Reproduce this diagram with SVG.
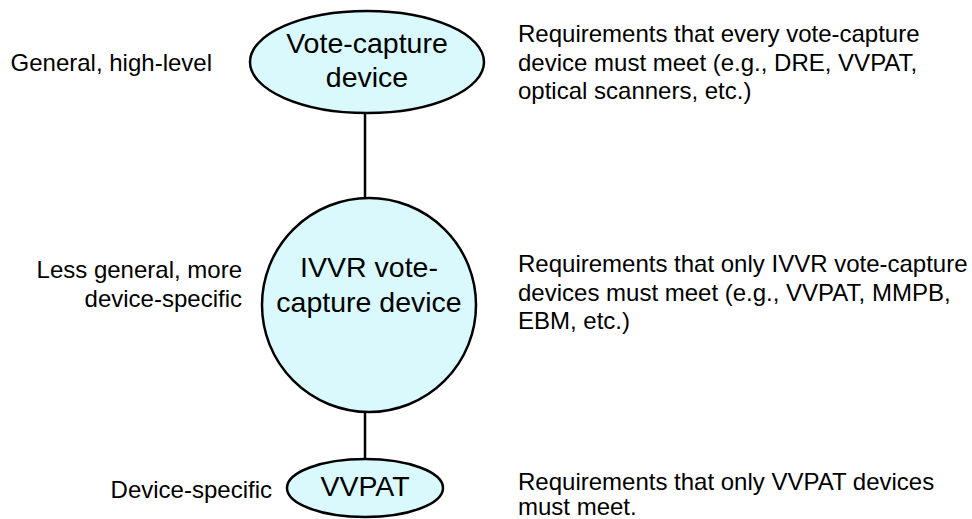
<svg xmlns="http://www.w3.org/2000/svg" width="972" height="519" viewBox="0 0 972 519">
<style>
text{font-family:"Liberation Sans",Arial,sans-serif;fill:#000}
.n{font-size:28.5px;text-anchor:middle}
.s{font-size:24px}
.l{text-anchor:end}
ellipse{fill:#d9f9fc;stroke:#000;stroke-width:2.5}
.c line{stroke:#000;stroke-width:2.5}
</style>
<rect width="972" height="519" fill="#fff"/>
<g class="c" id="connectors">
<line x1="365" y1="113" x2="365" y2="198"/>
<line x1="365" y1="412" x2="365" y2="458"/>
</g>
<g id="vote-capture">
<ellipse cx="367" cy="62" rx="117" ry="51"/>
<text class="n" x="367" y="53">Vote-capture</text>
<text class="n" x="367" y="87">device</text>
</g>
<g id="ivvr">
<ellipse cx="369" cy="305" rx="107" ry="107"/>
<text class="n" x="369" y="277">IVVR vote-</text>
<text class="n" x="369" y="312">capture device</text>
</g>
<g id="vvpat">
<ellipse cx="365" cy="488" rx="78" ry="29"/>
<text class="n" x="365" y="496">VVPAT</text>
</g>
<g id="left-labels">
<text class="s l" x="212" y="71">General, high-level</text>
<text class="s l" x="242" y="278">Less general, more</text>
<text class="s l" x="242" y="307">device-specific</text>
<text class="s l" x="272" y="498">Device-specific</text>
</g>
<g id="right-labels">
<text class="s" x="518" y="42">Requirements that every vote-capture</text>
<text class="s" x="518" y="71">device must meet (e.g., DRE, VVPAT,</text>
<text class="s" x="518" y="99">optical scanners, etc.)</text>
<text class="s" x="518" y="272">Requirements that only IVVR vote-capture</text>
<text class="s" x="518" y="301">devices must meet (e.g., VVPAT, MMPB,</text>
<text class="s" x="518" y="329">EBM, etc.)</text>
<text class="s" x="518" y="490">Requirements that only VVPAT devices</text>
<text class="s" x="518" y="515">must meet.</text>
</g>
</svg>
